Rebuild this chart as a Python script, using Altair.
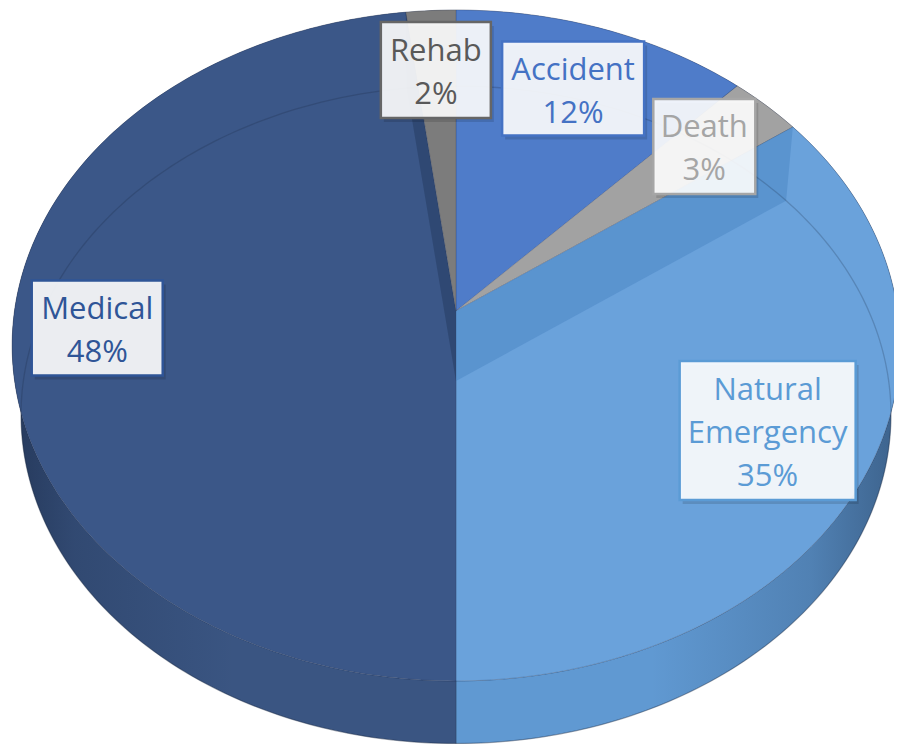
import math
import altair as alt

# ---------------- data ----------------
categories = ["Accident", "Death", "Natural Emergency", "Medical", "Rehab"]
shares = [12, 3, 35, 48, 2]  # percent
label_names = ["Accident", "Death", "Natural\nEmergency", "Medical", "Rehab"]

# ---------------- styles ----------------
top_colors = ["#4f7cc9", "#a2a2a2", "#6aa2db", "#3b5788", "#7c7c7c"]
wall_colors = ["#4672bb", "#8f8f8f", "#6099d2", "#3a5582", "#6b6b6b"]
cut_colors = ["#3d66ad", "#8a8a8a", "#4a86c4", "#24395e", "#5e5e5e"]
label_colors = ["#4472c4", "#a5a5a5", "#5b9bd5", "#2f5597", "#595959"]
border_colors = ["#4472c4", "#a6a6a6", "#5b9bd5", "#2f5597", "#666666"]
FONT = "Open Sans"
FONT_SIZE = 31
LINE_H = 43
TEXT_DY = 3.5

# ---------------- layout (page pixels) ----------------
APEX_X, APEX_Y = 456.0, 311.0      # projected pie centre
RX, RY, PERSP = 441.5, 331.9, 0.1028  # top-face radii and perspective factor
DEPTH, SHRINK = 70.0, 0.98          # thickness shift and far-face shrink
label_r = [0.774, 0.79, 0.764, 0.81, 0.786]
box_w = [142, 102, 176, 131, 110]
box_h = [94, 95, 139, 95, 96]
visible_cuts = [("Natural Emergency", "start"), ("Medical", "end")]


def top_pt(theta_deg, r=1.0):
    t = math.radians(theta_deg)
    x, y = r * math.sin(t), -r * math.cos(t)
    den = 1.0 - PERSP * y
    return [APEX_X + RX * x / den, APEX_Y + RY * y / den]


def bot_pt(theta_deg, r=1.0):
    X, Y = top_pt(theta_deg, r)
    return [APEX_X + SHRINK * (X - APEX_X), APEX_Y + DEPTH + SHRINK * (Y - APEX_Y)]


def arc(a0, a1):
    n = max(2, int(abs(a1 - a0)) + 2)
    return [a0 + (a1 - a0) * i / (n - 1) for i in range(n)]


def feature(geom_type, coords, **props):
    return {"type": "Feature", "properties": props,
            "geometry": {"type": geom_type, "coordinates": coords}}


total = float(sum(shares))
starts, ends = [], []
acc = 0.0
for s in shares:
    starts.append(acc / total * 360.0)
    acc += s
    ends.append(acc / total * 360.0)

apex_top = [APEX_X, APEX_Y]
apex_bot = [APEX_X, APEX_Y + DEPTH]

wall_feats, top_feats, cut_feats = [], [], []
for i, c in enumerate(categories):
    angs = arc(starts[i], ends[i])
    ring = [top_pt(a) for a in angs] + [bot_pt(a) for a in reversed(angs)]
    ring.append(ring[0])
    wall_feats.append(feature("Polygon", [ring], cat=c, col=wall_colors[i]))
    tring = [apex_top] + [top_pt(a) for a in angs] + [apex_top]
    top_feats.append(feature("Polygon", [tring], cat=c, col=top_colors[i]))
    for (vc, side) in visible_cuts:
        if vc == c:
            a = starts[i] if side == "start" else ends[i]
            q = [apex_top, top_pt(a), bot_pt(a), apex_bot, apex_top]
            cut_feats.append(feature("Polygon", [q], cat=c, col=cut_colors[i]))

full = arc(0, 360)
shade_ring = [top_pt(a) for a in full] + [bot_pt(a) for a in reversed(full)]
shade_ring.append(shade_ring[0])
shade_feat = feature("Polygon", [shade_ring])
rim_feat = feature("LineString", [bot_pt(a) for a in full])

box_feats, shadow_feats, text_rows = [], [], []
for i, c in enumerate(categories):
    mid = (starts[i] + ends[i]) / 2.0
    lx, ly = top_pt(mid, label_r[i])
    w2, h2 = box_w[i] / 2.0, box_h[i] / 2.0
    rect = [[lx - w2, ly - h2], [lx + w2, ly - h2], [lx + w2, ly + h2],
            [lx - w2, ly + h2], [lx - w2, ly - h2]]
    box_feats.append(feature("Polygon", [rect], cat=c, col=border_colors[i]))
    srect = [[x + 3, y + 4] for x, y in rect]
    shadow_feats.append(feature("Polygon", [srect], cat=c))
    txt = f"{label_names[i]}\n{shares[i]}%"
    n_lines = txt.count("\n") + 1
    text_rows.append({"lon": lx,
                      "lat": ly + TEXT_DY - (n_lines - 1) * LINE_H / 2.0,
                      "text": txt, "col": label_colors[i]})

PROJ = dict(type="identity", scale=1, translate=[-8, -8])

walls = alt.Chart(alt.Data(values=wall_feats)).mark_geoshape(
    stroke="#1c2a44", strokeOpacity=0.35, strokeWidth=0.8
).encode(fill=alt.Fill("properties.col:N", scale=None)).project(**PROJ)

shade = alt.Chart(alt.Data(values=[shade_feat])).mark_geoshape(
    strokeWidth=0,
    fill=alt.LinearGradient(
        gradient="linear", x1=0, x2=1, y1=0, y2=0,
        stops=[
            alt.GradientStop(color="rgba(10,20,40,0.42)", offset=0),
            alt.GradientStop(color="rgba(10,20,40,0.18)", offset=0.07),
            alt.GradientStop(color="rgba(10,20,40,0.0)", offset=0.25),
            alt.GradientStop(color="rgba(10,20,40,0.0)", offset=0.72),
            alt.GradientStop(color="rgba(10,20,40,0.18)", offset=0.9),
            alt.GradientStop(color="rgba(10,20,40,0.42)", offset=1),
        ],
    ),
).project(**PROJ)

tops = alt.Chart(alt.Data(values=top_feats)).mark_geoshape(
    stroke="#1c2a44", strokeOpacity=0.25, strokeWidth=0.8
).encode(fill=alt.Fill("properties.col:N", scale=None)).project(**PROJ)

cuts = alt.Chart(alt.Data(values=cut_feats)).mark_geoshape(
    strokeWidth=0, fillOpacity=0.5
).encode(fill=alt.Fill("properties.col:N", scale=None)).project(**PROJ)

rim = alt.Chart(alt.Data(values=[rim_feat])).mark_geoshape(
    filled=False, stroke="#15233d", strokeOpacity=0.22, strokeWidth=1.3
).project(**PROJ)

shadows = alt.Chart(alt.Data(values=shadow_feats)).mark_geoshape(
    fill="#000000", fillOpacity=0.13, strokeWidth=0
).project(**PROJ)

boxes = alt.Chart(alt.Data(values=box_feats)).mark_geoshape(
    fill="#ffffff", fillOpacity=0.9, strokeWidth=2.5
).encode(stroke=alt.Stroke("properties.col:N", scale=None)).project(**PROJ)

texts = alt.Chart(alt.Data(values=text_rows)).mark_text(
    font=FONT, fontSize=FONT_SIZE, lineBreak="\n", lineHeight=LINE_H,
    align="center", baseline="middle"
).encode(
    longitude="lon:Q", latitude="lat:Q", text="text:N",
    color=alt.Color("col:N", scale=None),
).project(**PROJ)

chart = alt.layer(walls, shade, tops, cuts, rim, shadows, boxes, texts).properties(
    width=886, height=736, padding=0,
    autosize=alt.AutoSizeParams(type="none"),
).configure_view(strokeWidth=0)

chart.save("out.html", embed_options={"renderer": "svg", "actions": False})
